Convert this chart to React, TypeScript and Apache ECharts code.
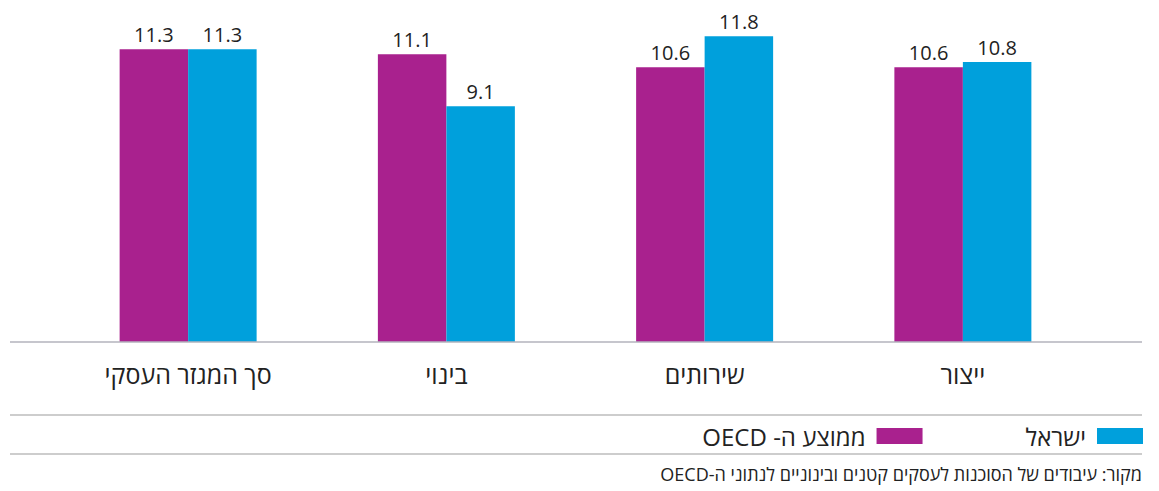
import React, { useEffect, useRef } from "react";
import * as echarts from "echarts";

const categories = ["סך המגזר העסקי", "בינוי", "שירותים", "ייצור"];
const oecdValues = [11.3, 11.1, 10.6, 10.6];
const israelValues = [11.3, 9.1, 11.8, 10.8];
const seriesNames = ["ממוצע ה- OECD", "ישראל"];
const sourceText = "מקור: עיבודים של הסוכנות לעסקים קטנים ובינוניים לנתוני ה-OECD";

const RTL = (s: string) => "\u202B" + s + "\u202C";
const FONT = "'Open Sans', 'DejaVu Sans', sans-serif";
const PURPLE = "#A9218E";
const BLUE = "#00A0DC";

export default function App() {
  const ref = useRef<HTMLDivElement>(null);
  useEffect(() => {
    if (!ref.current) return;
    const chart = echarts.init(ref.current, undefined, { renderer: "svg" });
    const label = {
      show: true,
      position: "top" as const,
      distance: 5,
      color: "#222",
      fontSize: 20,
      fontFamily: FONT,
      formatter: (p: any) => p.value.toFixed(1),
    };
    chart.setOption({
      animation: false,
      grid: { left: 59, right: 67, top: 31, bottom: 149 },
      xAxis: {
        type: "category",
        data: categories,
        axisLine: { show: false },
        axisTick: { show: false },
        axisLabel: { margin: 19, fontSize: 25, color: "#222", fontFamily: FONT },
      },
      yAxis: {
        type: "value",
        min: 0,
        max: 12,
        show: false,
        splitLine: { show: false },
      },
      legend: {
        data: [seriesNames[0], seriesNames[1]],
        right: 16,
        top: 424,
        padding: 0,
        align: "right",
        icon: "rect",
        itemWidth: 46,
        itemHeight: 16,
        itemGap: 103,
        formatter: (n: string) => RTL(n),
        textStyle: { fontSize: 24, color: "#222", fontFamily: FONT, padding: [0, 6, 0, 0] },
      },
      series: [
        {
          name: seriesNames[0],
          type: "bar",
          data: oecdValues,
          barWidth: 68.5,
          barGap: "0%",
          itemStyle: { color: PURPLE },
          label,
        },
        {
          name: seriesNames[1],
          type: "bar",
          data: israelValues,
          barWidth: 68.5,
          barGap: "0%",
          itemStyle: { color: BLUE },
          label,
        },
      ],
      graphic: [
        { type: "line", shape: { x1: 10, y1: 342, x2: 1142, y2: 342 }, style: { stroke: "#B3B3BC", lineWidth: 1.5 }, z: 10 },
        { type: "line", shape: { x1: 10, y1: 415, x2: 1142, y2: 415 }, style: { stroke: "#BDBDBD", lineWidth: 1.5 } },
        { type: "line", shape: { x1: 10, y1: 454, x2: 1142, y2: 454 }, style: { stroke: "#BDBDBD", lineWidth: 1.5 } },
        {
          type: "text",
          right: 17,
          top: 465,
          style: { text: RTL(sourceText), fontSize: 18, fill: "#222", fontFamily: FONT },
        },
      ],
    });
    return () => chart.dispose();
  }, []);
  return (
    <div
      ref={ref}
      style={{ position: "absolute", left: 0, top: 0, width: 1159, height: 491, background: "#fff" }}
    />
  );
}
